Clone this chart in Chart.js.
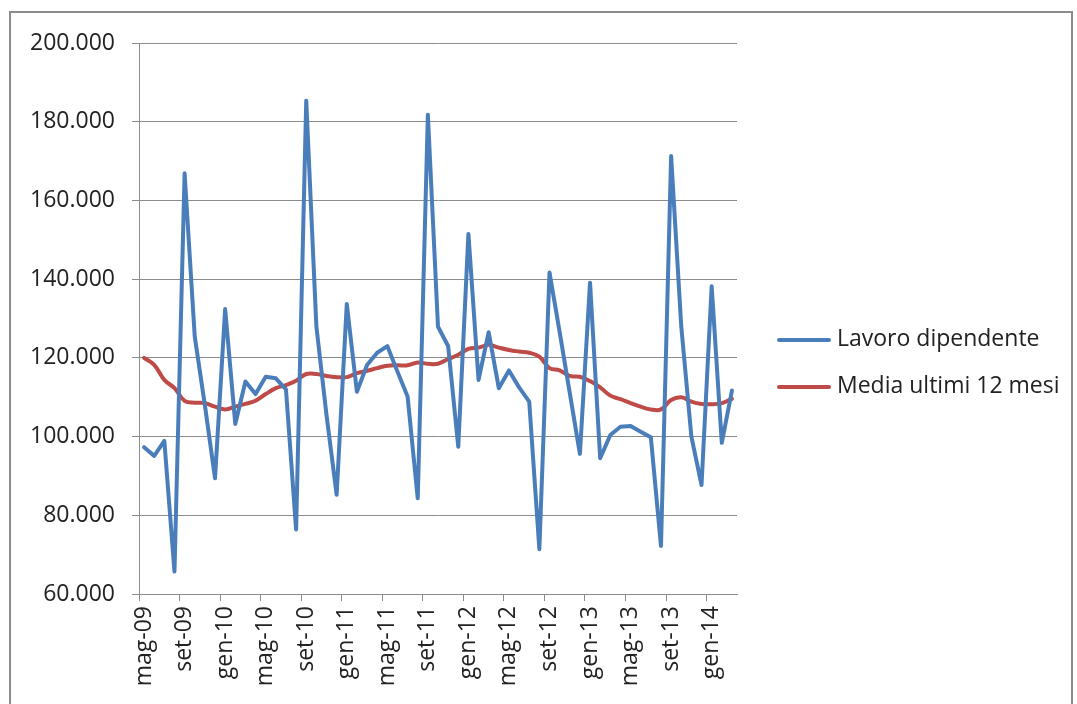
<!DOCTYPE html>
<html>
<head>
<meta charset="utf-8">
<script src="https://cdn.jsdelivr.net/npm/chart.js@4.4.0/dist/chart.umd.min.js"></script>
<style>
  body { margin: 0; background: #fff; }
  #wrap { position: absolute; left: 0; top: 0; width: 1077px; height: 704px; overflow: hidden; }
  #frame { position: absolute; left: 9px; top: 11px; width: 1060px; height: 720px; border: 2px solid #8c8c8c; }
  #chartBox { position: absolute; left: 0; top: 0; width: 1077px; height: 704px; }
  .leg { position: absolute; left: 777px; font-family: "Open Sans", sans-serif; font-size: 23px; color: #222; white-space: nowrap; }
  .leg span { display: inline-block; width: 54px; height: 4px; border-radius: 2px; vertical-align: middle; margin-right: 6px; }
</style>
</head>
<body>
<div id="wrap">
  <div id="frame"></div>
  <div id="chartBox"><canvas id="chart1"></canvas></div>
  <div class="leg" style="top:321px"><span style="background:#4a7ebb"></span>Lavoro dipendente</div>
  <div class="leg" style="top:368px"><span style="background:#be4b48"></span>Media ultimi 12 mesi</div>
</div>
<script>
// mesi da maggio 2009 a marzo 2014
var mesi = [
  'mag-09','giu-09','lug-09','ago-09','set-09','ott-09','nov-09','dic-09',
  'gen-10','feb-10','mar-10','apr-10','mag-10','giu-10','lug-10','ago-10','set-10','ott-10','nov-10','dic-10',
  'gen-11','feb-11','mar-11','apr-11','mag-11','giu-11','lug-11','ago-11','set-11','ott-11','nov-11','dic-11',
  'gen-12','feb-12','mar-12','apr-12','mag-12','giu-12','lug-12','ago-12','set-12','ott-12','nov-12','dic-12',
  'gen-13','feb-13','mar-13','apr-13','mag-13','giu-13','lug-13','ago-13','set-13','ott-13','nov-13','dic-13',
  'gen-14','feb-14','mar-14'
];

var lavoroDipendente = [
  97300, 95100, 98900, 65700, 166900, 125400, 108000, 89400,
  132400, 103200, 114000, 110800, 115200, 114800, 112000, 76400, 185300, 128000, 105500, 85200,
  133700, 111400, 118200, 121300, 123000, 116500, 110200, 84300, 181800, 127900, 123000, 97400,
  151500, 114400, 126500, 112300, 116800, 112500, 108900, 71400, 141700, 126600, 111100, 95600,
  139100, 94500, 100400, 102500, 102700, 101200, 99800, 72200, 171300, 128000, 100000, 87700,
  138200, 98400, 111700
];

var mediaUltimi12 = [
  120000, 118200, 114400, 112300, 109100, 108600, 108500, 107600,
  106900, 107600, 108300, 109100, 110800, 112300, 113100, 114200, 115900, 115900, 115400, 115100,
  115100, 116100, 116700, 117400, 118000, 118100, 118100, 118800, 118500, 118500, 119700, 120800,
  122300, 122600, 123300, 122600, 122000, 121600, 121300, 120300, 117400, 116800, 115400, 115200,
  114100, 112500, 110400, 109500, 108500, 107600, 106900, 106900, 109300, 110000, 108900, 108300,
  108200, 108500, 109600
];

var yMin = 60000, yMax = 200000, yStep = 20000;

function fmtIt(v) {
  return String(v).replace(/\B(?=(\d{3})+(?!\d))/g, '.');
}

var font = { family: '"Open Sans", sans-serif', size: 23 };

var chart = new Chart(document.getElementById('chart1'), {
  type: 'line',
  data: {
    labels: mesi,
    datasets: [
      {
        label: 'Lavoro dipendente',
        data: lavoroDipendente,
        borderColor: '#4a7ebb',
        borderWidth: 4,
        pointRadius: 0,
        tension: 0,
        borderJoinStyle: 'round',
        borderCapStyle: 'round'
      },
      {
        label: 'Media ultimi 12 mesi',
        data: mediaUltimi12,
        borderColor: '#be4b48',
        borderWidth: 4,
        pointRadius: 0,
        tension: 0.4,
        borderJoinStyle: 'round',
        borderCapStyle: 'round'
      }
    ]
  },
  options: {
    responsive: true,
    maintainAspectRatio: false,
    animation: false,
    layout: { padding: { left: 0, right: 340, top: 43, bottom: 0 } },
    plugins: { legend: { display: false }, tooltip: { enabled: false } },
    scales: {
      x: {
        offset: true,
        afterFit: function (s) { s.height = 110; },
        grid: {
          offset: true,
          drawOnChartArea: false,
          tickLength: 7,
          color: function (ctx) { return ctx.index % 4 === 0 ? '#8c8c8c' : 'rgba(0,0,0,0)'; }
        },
        border: { color: '#8c8c8c' },
        ticks: {
          autoSkip: false,
          maxRotation: 90,
          minRotation: 90,
          padding: 5,
          color: '#222',
          font: font,
          callback: function (v, i) { return i % 4 === 0 ? mesi[i] : ''; }
        }
      },
      y: {
        min: yMin,
        max: yMax,
        afterFit: function (s) { s.width = 139; },
        grid: { color: '#8c8c8c', tickLength: 7 },
        border: { color: '#8c8c8c' },
        ticks: {
          stepSize: yStep,
          padding: 17,
          color: '#222',
          font: font,
          callback: function (v) { return fmtIt(v); }
        }
      }
    }
  }
});
</script>
</body>
</html>
